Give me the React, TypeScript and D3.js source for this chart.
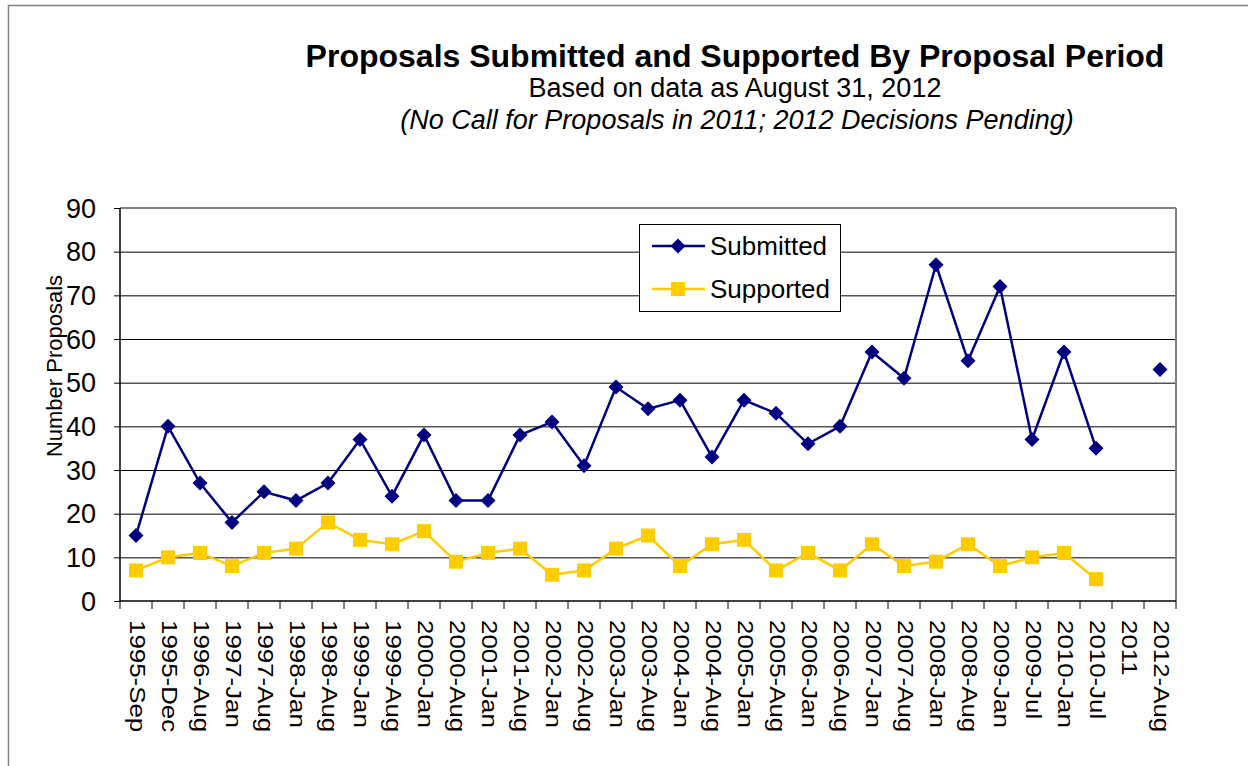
import React from "react";
import * as d3 from "d3";

// Categories (proposal periods) and series values
const periods = [
  "1995-Sep", "1995-Dec", "1996-Aug", "1997-Jan", "1997-Aug", "1998-Jan", "1998-Aug",
  "1999-Jan", "1999-Aug", "2000-Jan", "2000-Aug", "2001-Jan", "2001-Aug", "2002-Jan",
  "2002-Aug", "2003-Jan", "2003-Aug", "2004-Jan", "2004-Aug", "2005-Jan", "2005-Aug",
  "2006-Jan", "2006-Aug", "2007-Jan", "2007-Aug", "2008-Jan", "2008-Aug", "2009-Jan",
  "2009-Jul", "2010-Jan", "2010-Jul", "2011", "2012-Aug",
];

const submitted: (number | null)[] = [
  15, 40, 27, 18, 25, 23, 27, 37, 24, 38, 23, 23, 38, 41, 31, 49, 44, 46, 33, 46, 43,
  36, 40, 57, 51, 77, 55, 72, 37, 57, 35, null, 53,
];

const supported: (number | null)[] = [
  7, 10, 11, 8, 11, 12, 18, 14, 13, 16, 9, 11, 12, 6, 7, 12, 15, 8, 13, 14, 7,
  11, 7, 13, 8, 9, 13, 8, 10, 11, 5, null, null,
];

const yTicks = [0, 10, 20, 30, 40, 50, 60, 70, 80, 90];

const NAVY = "#000080";
const GOLD = "#FFCC00";
const FONT = "'Liberation Sans', Arial, sans-serif";

const W = 1248;
const H = 766;
const plot = { left: 120, top: 208, right: 1176, bottom: 601 };

const App: React.FC = () => {
  const x = d3.scaleBand<string>().domain(periods).range([plot.left, plot.right]);
  const y = d3.scaleLinear().domain([0, 90]).range([plot.bottom, plot.top]);
  const cx = (i: number) => x(periods[i])! + x.bandwidth() / 2;

  const line = d3
    .line<number | null>()
    .defined((d) => d !== null)
    .x((_d, i) => cx(i))
    .y((d) => y(d as number));

  const diamond = (px: number, py: number, r: number) =>
    `M${px},${py - r}L${px + r},${py}L${px},${py + r}L${px - r},${py}Z`;

  const boundaries = d3.range(periods.length + 1).map((i) => plot.left + i * x.step());

  return (
    <svg width={W} height={H} style={{ position: "absolute", left: 0, top: 0, display: "block" }}>
      <rect x={0} y={0} width={W} height={H} fill="#fff" />
      {/* outer chart border */}
      <rect x={8.5} y={5.5} width={W + 20} height={H + 20} fill="none" stroke="#808080" strokeWidth={1.5} />

      {/* titles */}
      <g fontFamily={FONT} textAnchor="middle" fill="#000">
        <text x={735} y={67} fontSize={32} fontWeight="bold">
          Proposals Submitted and Supported By Proposal Period
        </text>
        <text x={735} y={97} fontSize={27}>Based on data as August 31, 2012</text>
        <text x={737} y={129} fontSize={27} fontStyle="italic">
          (No Call for Proposals in 2011; 2012 Decisions Pending)
        </text>
      </g>

      {/* gridlines */}
      {yTicks.filter((t) => t > 0 && t < 90).map((t) => (
        <line key={t} x1={plot.left} x2={plot.right} y1={y(t) + 0.5} y2={y(t) + 0.5} stroke="#000" strokeWidth={1} />
      ))}
      {/* plot area border top/right (gray) */}
      <line x1={plot.left} x2={plot.right} y1={plot.top} y2={plot.top} stroke="#808080" strokeWidth={2} />
      <line x1={plot.right} x2={plot.right} y1={plot.top} y2={plot.bottom} stroke="#808080" strokeWidth={2} />

      {/* y axis */}
      <line x1={plot.left} x2={plot.left} y1={plot.top} y2={plot.bottom} stroke="#000" strokeWidth={1.5} />
      {yTicks.map((t) => (
        <g key={t}>
          <line x1={plot.left - 6} x2={plot.left} y1={y(t) + 0.5} y2={y(t) + 0.5} stroke="#000" strokeWidth={1} />
          <text x={96} y={y(t) + 9.5} fontFamily={FONT} fontSize={27} textAnchor="end">{t}</text>
        </g>
      ))}
      <text
        transform="translate(62,366) rotate(-90)"
        fontFamily={FONT}
        fontSize={22}
        textAnchor="middle"
      >
        Number Proposals
      </text>

      {/* x axis */}
      <line x1={plot.left} x2={plot.right} y1={plot.bottom} y2={plot.bottom} stroke="#000" strokeWidth={1.5} />
      {boundaries.map((bx, i) => (
        <line key={i} x1={bx} x2={bx} y1={plot.bottom} y2={plot.bottom + 8} stroke="#000" strokeWidth={1} />
      ))}
      {periods.map((p, i) => (
        <text
          key={p}
          transform={`translate(${cx(i) - 6},${plot.bottom + 19}) rotate(90) scale(1.15,1)`}
          fontFamily={FONT}
          fontSize={22.5}
          textAnchor="start"
        >
          {p}
        </text>
      ))}

      {/* series */}
      <path d={line(supported) ?? ""} fill="none" stroke={GOLD} strokeWidth={2.5} />
      <path d={line(submitted) ?? ""} fill="none" stroke={NAVY} strokeWidth={2.5} />
      {supported.map((v, i) =>
        v === null ? null : (
          <rect key={"s" + i} x={cx(i) - 7} y={y(v) - 7} width={14} height={14} fill={GOLD} />
        )
      )}
      {submitted.map((v, i) =>
        v === null ? null : <path key={"d" + i} d={diamond(cx(i), y(v), 7.5)} fill={NAVY} />
      )}

      {/* legend */}
      <rect x={639.5} y={224.5} width={201} height={87} fill="#fff" stroke="#000" strokeWidth={1} />
      <line x1={652} x2={705} y1={246} y2={246} stroke={NAVY} strokeWidth={2.5} />
      <path d={diamond(678, 246, 7.5)} fill={NAVY} />
      <text x={710} y={255} fontFamily={FONT} fontSize={26}>Submitted</text>
      <line x1={652} x2={705} y1={289} y2={289} stroke={GOLD} strokeWidth={2.5} />
      <rect x={671} y={282} width={14} height={14} fill={GOLD} />
      <text x={710} y={298} fontFamily={FONT} fontSize={26}>Supported</text>
    </svg>
  );
};

export default App;
